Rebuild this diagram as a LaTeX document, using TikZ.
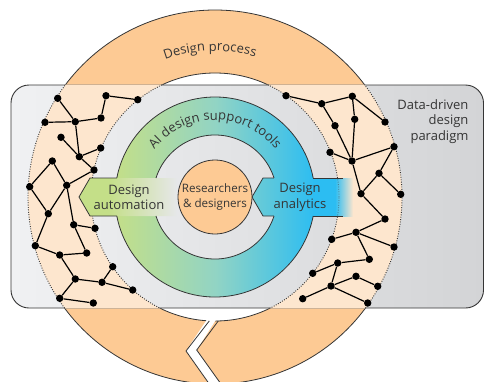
\documentclass[tikz,border=0pt]{standalone}
\usepackage{fontspec}
\setmainfont{Open Sans}
\usepackage{tikz}
\usetikzlibrary{decorations.text}
\definecolor{procorange}{HTML}{FDCA94}
\definecolor{procpeach}{HTML}{FDE6CE}
\definecolor{framegreyL}{HTML}{F0F1F3}
\definecolor{framegreyR}{HTML}{D3D4D6}
\definecolor{innergrey}{HTML}{E6E7E9}
\definecolor{aigreen}{HTML}{C4DF88}
\definecolor{aiteal}{HTML}{92D4C4}
\definecolor{aiblue}{HTML}{2CBDF2}
\definecolor{ink}{HTML}{353535}
\pgfdeclarehorizontalshading{autofade}{100bp}{color(0bp)=(aigreen); color(40bp)=(aigreen); color(75bp)=(innergrey); color(100bp)=(innergrey)}

\begin{document}
\begin{tikzpicture}[x=1pt, y=1pt,
    outline/.style={draw=ink, line width=0.8pt},
    dotring/.style={draw=ink, line width=0.9pt, dash pattern=on 0.9pt off 1.5pt},
    netdot/.style={circle, fill=black, inner sep=0pt, minimum size=7.4pt},
    netedge/.style={line width=1.2pt},
    caption/.style={text=ink, font=\fontsize{13}{15.5}\selectfont, align=center},
    arctext/.style={decorate, decoration={text along path, text align=center,
        text color=ink, text={|\fontsize{13}{15}\selectfont|#1}}}
]
\useasboundingbox (0,0) rectangle (484,-381);
\clip (0,0) rectangle (484,-381);
\coordinate (c) at (215,-197);

% design process ring
\fill[procorange, even odd rule] (c) circle[radius=187pt] (c) circle[radius=124pt];
\draw[outline] (c) circle[radius=187pt] (c) circle[radius=124pt];
\fill[white] (209.3,-316) -- (186,-351) -- (210,-385) -- (221.7,-385) -- (196.7,-350) -- (218.3,-316) -- cycle;
\draw[outline] (209.3,-320.9) -- (186,-351) -- (210,-385);
\draw[outline] (218.3,-320.9) -- (196.7,-350) -- (221.7,-385);

% data-driven frame
\node[draw=ink, line width=0.9pt, rounded corners=18pt, left color=framegreyL, right color=framegreyR,
    minimum width=472.5pt, minimum height=223pt, inner sep=0pt] (frame) at (247.25,-196.5) {};
\begin{scope}
  \clip[rounded corners=18pt] (frame.south west) rectangle (frame.north east);
  \fill[procpeach, even odd rule] (c) circle[radius=187pt] (c) circle[radius=124pt];
  \draw[dotring] (c) circle[radius=187pt] (c) circle[radius=124pt];
\end{scope}

% networks
\foreach \n/\x/\y in {l1/57.7/98.3, l2/106/95.7, l3/137.7/99.7, l4/45/122.3, l5/75.3/121.7,
    l6/101/118, l7/61/137.3, l8/79.3/156.7, l9/100.7/148, l10/52.3/161, l11/94/170,
    l12/29.7/186.7, l13/66.7/185.3, l14/48.3/213.7, l15/73.7/224.7, l16/95/228.3,
    l17/35.3/245.7, l18/59.7/255, l19/86.7/253, l20/112.7/266.7, l21/75.3/279,
    l22/102/282.3, l23/132.7/290, l24/59.7/298.3, l25/93.3/303}
  \node[netdot] (\n) at (\x,-\y) {};
\foreach \n/\x/\y in {r1/286/95.7, r2/321.7/103.7, r3/352.3/96.3, r4/335/125.7, r5/354.7/119.3,
    r6/385/122, r7/330/152.3, r8/352/161, r9/394/146.7, r10/379/173.3, r11/361/193.7,
    r12/400.7/194.3, r13/385/219, r14/331.7/239.3, r15/356/232.3, r16/394/247,
    r17/369.3/259.3, r18/337.7/263, r19/312.7/273.3, r20/356/276.3, r21/331/286,
    r22/377.7/286.3, r23/302.7/298.7, r24/367.7/303}
  \node[netdot] (\n) at (\x,-\y) {};
\foreach \a/\b in {l1/l5, l4/l5, l5/l6, l6/l2, l2/l3, l5/l8, l7/l8, l8/l9, l8/l11,
    l10/l12, l10/l13, l13/l11, l12/l14, l13/l14, l13/l15, l15/l16, l14/l17, l15/l19,
    l17/l18, l18/l19, l18/l21, l20/l22, l21/l22, l22/l23, l21/l24, l24/l25,
    r1/r2, r2/r3, r3/r6, r3/r5, r2/r4, r4/r8, r5/r8, r7/r8, r8/r9, r8/r11, r9/r10,
    r10/r11, r10/r12, r11/r13, r13/r15, r14/r15, r15/r16, r15/r17, r17/r18, r18/r19,
    r18/r21, r20/r21, r20/r22, r21/r23, r21/r24}
  \draw[netedge] (\a) -- (\b);

% AI design support ring
\begin{scope}[even odd rule]
  \clip (c) circle[radius=100pt] (c) circle[radius=62pt];
  \shade[left color=aigreen, right color=aiblue, middle color=aiteal] (115,-97) rectangle (315,-297);
\end{scope}
\begin{scope}
  \clip (252,-197) -- (263,-178) -- (316,-178) -- (316,-216) -- (263,-216) -- cycle;
  \shade[left color=aigreen, right color=aiblue, middle color=aiteal] (115,-97) rectangle (315,-297);
\end{scope}
\shade[shading=autofade] (79,-197) -- (90,-178) -- (177,-178) -- (177,-216) -- (90,-216) -- cycle;
\fill[aiblue] (313,-178) rectangle (335,-216);
\shade[left color=aiblue, right color=procpeach] (335,-178) rectangle (353,-216);
\begin{scope}
  \clip (320,-178) rectangle (360,-216);
  \draw[dotring, opacity=0.45] (c) circle[radius=124pt];
\end{scope}

% outlines
\draw[outline] ([shift={(10.95:100pt)}]c) arc[start angle=10.95, end angle=169.05, radius=100pt];
\draw[outline] ([shift={(190.95:100pt)}]c) arc[start angle=190.95, end angle=349.05, radius=100pt];
\draw[outline] ([shift={(17.84:62pt)}]c) arc[start angle=17.84, end angle=162.16, radius=62pt];
\draw[outline] ([shift={(197.84:62pt)}]c) arc[start angle=197.84, end angle=342.16, radius=62pt];
\draw[outline] (116.8,-178) -- (90,-178) -- (79,-197) -- (90,-216) -- (116.8,-216);
\draw[outline] (273.9,-178) -- (263,-178) -- (252,-197) -- (263,-216) -- (273.9,-216);
\draw[outline] (313.2,-178) -- (343,-178);
\draw[outline] (313.2,-216) -- (343,-216);

% labels
\node[circle, fill=procorange, draw=ink, line width=0.8pt, minimum size=74pt, inner sep=0pt,
    caption, font=\fontsize{11.6}{14.5}\selectfont] (people) at (c) {Researchers\\\& designers};
\node[caption] (automation) at (129,-197.5) {Design\\automation};
\node[caption] (analytics) at (300,-197.5) {Design\\analytics};
\node[caption, align=right, anchor=east] (paradigm) at (472,-121.5) {Data-driven\\design\\paradigm};
\path[arctext={Design process}] ([shift={(152:146pt)}]c) arc[start angle=152, end angle=32, radius=146pt];
\path[arctext={AI design support tools}] ([shift={(150:77pt)}]c) arc[start angle=150, end angle=30, radius=77pt];
\end{tikzpicture}
\end{document}
